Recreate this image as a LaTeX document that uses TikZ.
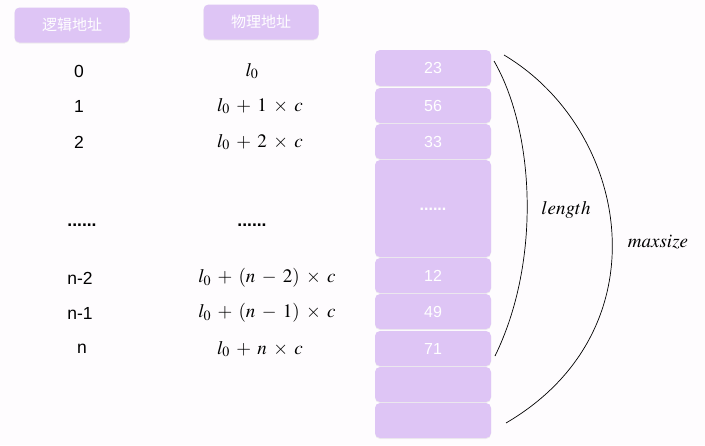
\documentclass[tikz,border=0pt]{standalone}
\usepackage{mathptmx}
\usepackage[no-math]{fontspec}
\setmainfont{Liberation Sans}
\newfontfamily\cjk{Noto Sans CJK SC}
\usetikzlibrary{shadows}
\definecolor{cellfill}{RGB}{222,197,245}
\definecolor{pagebg}{RGB}{254,252,254}
\newcommand{\celldots}{\raisebox{-4pt}{\textbf{......}}}
\newcommand{\addrfont}{\fontsize{19}{22}\selectfont\medmuskip=6mu\relax}
\tikzset{
    cell/.style={fill=cellfill,rounded corners=5pt,minimum width=116pt,inner sep=0pt,
        text=white,font=\fontsize{16}{18}\selectfont,
        drop shadow={opacity=0.12,shadow xshift=0pt,shadow yshift=-1pt}},
    head/.style={cell,minimum height=35pt,minimum width=115pt,font=\cjk\fontsize{15}{17}\selectfont},
    idx/.style={font=\fontsize{17.5}{20}\selectfont},
    addr/.style={font=\addrfont},
    span/.style={draw,line width=0.7pt},
    spanlabel/.style={font=\fontsize{19}{22}\selectfont}
}

\begin{document}
\begin{tikzpicture}[x=1pt,y=-1pt]
    \fill[pagebg] (0,0) rectangle (705,445);
    \useasboundingbox (0,0) rectangle (705,445);

    % headers
    \node[head] (hlog) at (72,25) {逻辑地址};
    \node[head] (hphy) at (261,22) {物理地址};

    % memory cells
    \foreach \ytop/\ybot/\val [count=\i] in {50/86/23,88/123/56,124/159/33,160/257/\celldots,
        258/293/12,294/329/49,331/366/71,367/402/{},403/438/{}}
        \node[cell,minimum height={(\ybot-\ytop)*1pt}] (c\i) at (433,{(\ytop+\ybot)/2}) {\val};

    % logical addresses
    \node[idx] (i0) at (79,71) {0};
    \node[idx] (i1) at (79,106) {1};
    \node[idx] (i2) at (79,142) {2};
    \node[idx] (idots) at (82,225) {\textbf{......}};
    \node[idx] (in2) at (80,278) {n-2};
    \node[idx] (in1) at (80,313) {n-1};
    \node[idx] (in) at (82,349) {n};

    % physical addresses
    \node[addr] (a0) at (252,71) {$l_0$};
    \node[addr] (a1) at (260,106) {$l_0+1\times c$};
    \node[addr] (a2) at (260,142) {$l_0+2\times c$};
    \node[idx] (adots) at (252,225) {\textbf{......}};
    \node[addr] (an2) at (267,278) {$l_0+(n-2)\times c$};
    \node[addr] (an1) at (267,313) {$l_0+(n-1)\times c$};
    \node[addr] (an) at (260,349) {$l_0+n\times c$};

    % spans
    \coordinate (lenA) at (494,61);
    \coordinate (lenB) at (495,356);
    \coordinate (maxA) at (504,55);
    \coordinate (maxB) at (506,423);
    \draw[span] (lenA) .. controls (534,130) and (542,260) .. (lenB);
    \draw[span] (maxA) .. controls (630,130) and (665,330) .. (maxB);
    \node[spanlabel] (len) at (566,210) {$length$};
    \node[spanlabel] (max) at (658,242) {$maxsize$};
\end{tikzpicture}
\end{document}
